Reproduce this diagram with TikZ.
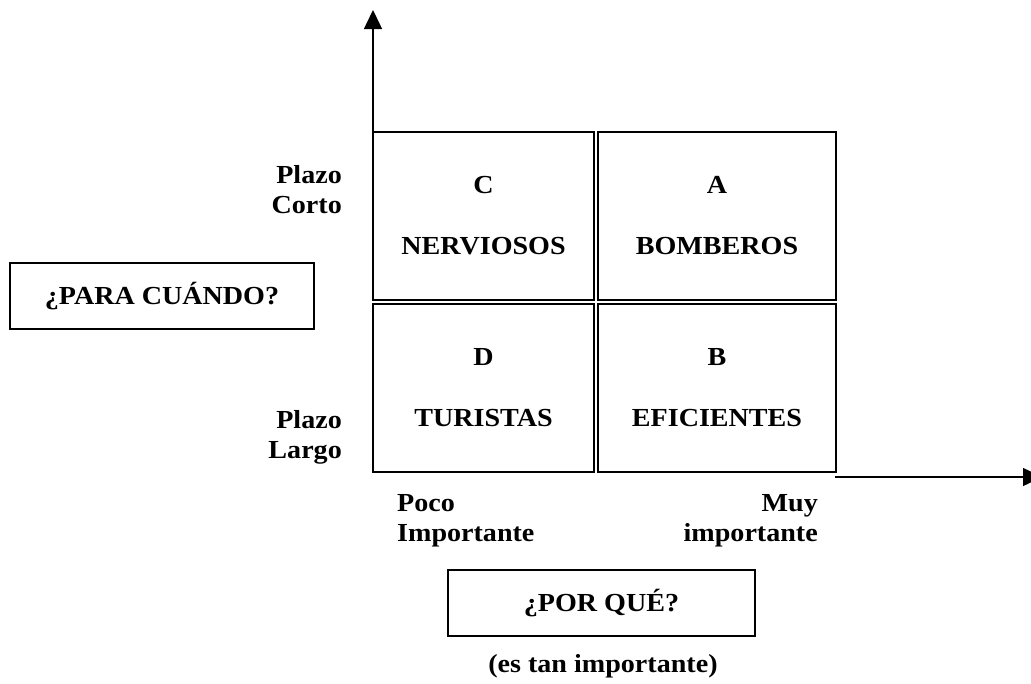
\documentclass[tikz,border=0pt]{standalone}
\usepackage{fontspec}
\setmainfont{Liberation Serif}[FakeStretch=1.08]
\usetikzlibrary{arrows.meta}
\tikzset{
  txt/.style={font=\fontsize{26}{30}\selectfont\bfseries, inner sep=0pt},
  quad/.style={draw, line width=1.5pt, txt, align=center, minimum height=168pt},
  qbox/.style={draw, line width=1.5pt, txt, minimum height=66pt},
  axis/.style={line width=1.5pt, -{Triangle[length=19pt,width=18pt]}}
}
\begin{document}
\begin{tikzpicture}[x=1pt,y=-1pt]
\useasboundingbox (0,0) rectangle (1031,683);
% quadrants
\node[quad, minimum width=221pt] (C) at (483.5,216) {C\\[31pt]NERVIOSOS};
\node[quad, minimum width=238pt] (A) at (717,216) {A\\[31pt]BOMBEROS};
\node[quad, minimum width=221pt] (D) at (483.5,388) {D\\[31pt]TURISTAS};
\node[quad, minimum width=238pt] (B) at (717,388) {B\\[31pt]EFICIENTES};
% axes
\coordinate (ytop) at (374,10);
\coordinate (hstart) at (835,477);
\coordinate (hend) at (1042,477);
\draw[axis] ([xshift=0.75pt]C.north west) -- ([xshift=0.75pt]C.north west |- ytop);
\draw[axis] (hstart) -- (hend);
% axis labels
\node[txt, align=right, anchor=east] (corto) at (342,190) {Plazo\\Corto};
\node[txt, align=right, anchor=east] (largo) at (342,437) {Plazo\\Largo};
\node[txt, align=left, anchor=west] (poco) at (397,521) {Poco\\Importante};
\node[txt, align=right, anchor=east] (muy) at (818,521) {Muy\\importante};
% question boxes
\node[qbox, minimum width=304pt] (cuando) at (162,296) {¿PARA CUÁNDO?};
\node[qbox, minimum width=307pt] (porque) at (601.5,603) {¿POR QUÉ?};
\node[txt] (tan) at (603,666) {(es tan importante)};
\end{tikzpicture}
\end{document}
